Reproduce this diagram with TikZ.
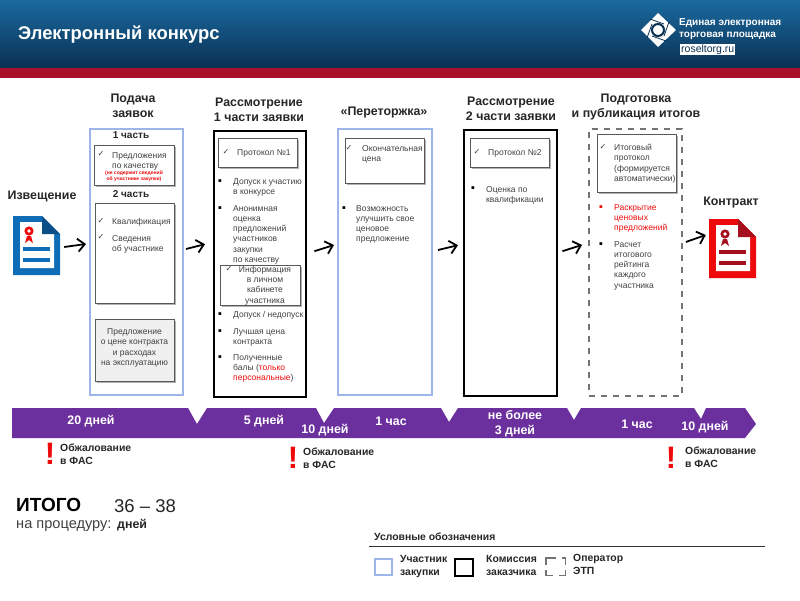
\documentclass[tikz,border=0pt]{standalone}
\usepackage{fontspec}
\setmainfont{Liberation Sans}
\newfontfamily\symfont{DejaVu Sans}
\usetikzlibrary{positioning,arrows.meta,shadows}

\definecolor{partblue}{HTML}{9DB5E8}
\definecolor{headtop}{HTML}{1A6AA0}
\definecolor{headbot}{HTML}{0A3052}
\definecolor{headred}{HTML}{A8102A}
\definecolor{bandviolet}{HTML}{6B2F9E}
\definecolor{txtgray}{HTML}{404040}
\definecolor{txtdark}{HTML}{262626}
\definecolor{noteblue}{HTML}{0F6CB6}
\definecolor{notedark}{HTML}{0B4F86}
\definecolor{signred}{HTML}{EE0A0A}
\definecolor{signdark}{HTML}{A5101E}

\newcommand{\docicon}[5]{%
  \fill [#2] (#1) ++(0,0) -- ++(29,0) -- ++(18,18) -- ++(0,41) -- ++(-47,0) -- cycle;
  \fill [white] (#1) ++(7,6) -- ++(22,0) -- ++(0,12) -- ++(12,0) -- ++(0,34) -- ++(-34,0) -- cycle;
  \fill [#3] (#1) ++(29,0) -- ++(18,18) -- ++(-18,0) -- cycle;
  \fill [#4] (#1) ++(14,20) -- ++(-2,7) -- ++(4,-3) -- ++(4,3) -- ++(-2,-7) -- cycle;
  \fill [#4] (#1) ++(16,15) circle (4.6);
  \fill [white] (#1) ++(16,15) circle (1.8);
  \fill [#5] (#1) ++(10,31) rectangle ++(27,4);
  \fill [#5] (#1) ++(10,42) rectangle ++(27,4);
}

\tikzset{
  heading/.style={align=center, inner sep=0, text=txtdark, font=\fontsize{12.4}{15}\selectfont\bfseries},
  subhead/.style={inner sep=0, text=txtdark, font=\fontsize{10}{12}\selectfont\bfseries},
  partbox/.style={anchor=north west, draw=partblue, line width=2pt, inner sep=0},
  jurybox/.style={anchor=north west, draw=black, line width=2.4pt, inner sep=0},
  etpbox/.style={anchor=north west, draw=black!55, line width=1.9pt, dash pattern=on 6pt off 6pt, inner sep=0},
  inbox/.style={anchor=north west, draw=black!65, line width=.8pt, fill=white, inner sep=0,
    drop shadow={shadow xshift=2pt, shadow yshift=-2pt, fill=black!60}},
  note/.style={anchor=north west, align=left, inner sep=0, yshift=-1pt, text=txtgray, font=\fontsize{8.5}{10.3}\selectfont},
  chk/.style={inner sep=0, text=txtgray, font=\symfont\fontsize{8}{9}\selectfont},
  bul/.style={inner sep=0, text=black, font=\symfont\fontsize{5.5}{7}\selectfont},
  flow/.style={-{Straight Barb[length=7pt,width=13pt,line width=1.8pt]}, line width=1.8pt, black},
  daytext/.style={inner sep=0, align=center, text=white, font=\fontsize{12.4}{15}\selectfont\bfseries},
  bang/.style={inner sep=0, text=signred, font=\fontsize{31}{31}\selectfont\bfseries},
  appeal/.style={anchor=north west, align=left, inner sep=0, text=txtdark, font=\fontsize{10.4}{12.8}\selectfont\bfseries},
  legend/.style={anchor=north west, align=left, inner sep=0, text=txtdark, font=\fontsize{10.4}{12.8}\selectfont\bfseries},
}

\begin{document}
\begin{tikzpicture}[x=1pt, y=-1pt]
  \useasboundingbox (0,0) rectangle (800,600);

  % header
  \shade [top color=headtop, bottom color=headbot] (0,0) rectangle (800,68);
  \fill [headred] (0,68) rectangle (800,78);
  \node [anchor=west, inner sep=0, text=white, font=\fontsize{18.4}{22}\selectfont\bfseries] (title) at (18,35) {Электронный конкурс};
  \fill [white] (658,13) -- (676,30) -- (658,47) -- (641,30) -- cycle;
  \draw [headbot, line width=2pt] (658,30) circle (6);
  \draw [headbot, line width=.8pt] (650,19) -- (664,24) (669,22) -- (664,36) (666,41) -- (652,36) (647,38) -- (652,24);
  \node [anchor=north west, align=left, inner sep=0, text=white, font=\fontsize{10}{12}\selectfont\bfseries] (etp) at (679,18) {Единая электронная\\торговая площадка};
  \node [anchor=north west, fill=white, inner sep=1pt, text=headbot, font=\fontsize{10.5}{11}\selectfont] (site) at (680,43.5) {roseltorg.ru};

  % columns
  \node [partbox, minimum width=93pt, minimum height=266pt] (submit) at (89,128) {};
  \node [jurybox, minimum width=92pt, minimum height=266pt] (first) at (213,130) {};
  \node [partbox, minimum width=94pt, minimum height=266pt] (rebid) at (337,128) {};
  \node [jurybox, minimum width=93pt, minimum height=266pt] (second) at (463,129) {};
  \node [etpbox, minimum width=93pt, minimum height=267pt] (result) at (588,128) {};

  \node [heading] (submithead) at (133,106) {Подача\\заявок};
  \node [heading] (firsthead) at (259,110) {Рассмотрение\\1 части заявки};
  \node [heading] (rebidhead) at (384,113) {«Переторжка»};
  \node [heading] (secondhead) at (511,109) {Рассмотрение\\2 части заявки};
  \node [heading] (resulthead) at (636,107) {Подготовка\\и публикация итогов};
  \node [heading] (noticehead) at (42,196) {Извещение};
  \node [heading] (contracthead) at (731,203) {Контракт};

  % documents
  \node [minimum width=47pt, minimum height=59pt, inner sep=0] (notice) at (36.5,245.5) {};
  \node [minimum width=47pt, minimum height=58pt, inner sep=0] (contract) at (732.5,248) {};
  \docicon{13,216}{noteblue}{notedark}{signred}{noteblue}
  \docicon{709,219}{signred}{signdark}{signdark}{signdark}

  % submit
  \node [subhead] (part1) at (131,135.5) {1 часть};
  \node [inbox, minimum width=80pt, minimum height=40pt] (quality) at (94,145) {};
  \node [chk] (c1) at (101,154) {✓};
  \node [note] (t1) at (112,151) {Предложения\\по качеству};
  \node [inner sep=0, align=center, text=signred, font=\fontsize{5}{6}\selectfont\bfseries] (t1a) at (134,176) {(не содержит сведений\\об участнике закупки)};
  \node [subhead] (part2) at (131,194.5) {2 часть};
  \node [inbox, minimum width=79pt, minimum height=100pt] (qualif) at (95,203) {};
  \node [chk] (c2) at (101,221) {✓};
  \node [note] (t2) at (112,217) {Квалификация};
  \node [chk] (c3) at (101,237) {✓};
  \node [note] (t3) at (112,234) {Сведения\\об участнике};
  \node [inbox, fill=black!6, minimum width=79pt, minimum height=62pt] (price) at (95,319) {};
  \node [note, anchor=center, align=center] (t4) at (134.5,347) {Предложение\\о цене контракта\\и расходах\\на эксплуатацию};

  % first part
  \node [inbox, minimum width=79pt, minimum height=29pt] (prot1) at (218,138) {};
  \node [chk] (c4) at (226,152) {✓};
  \node [note] (t5) at (237,148) {Протокол №1};
  \node [bul] (b1) at (220,181) {▪};
  \node [note] (t6) at (233,177) {Допуск к участию\\в конкурсе};
  \node [bul] (b2) at (220,208) {▪};
  \node [note] (t7) at (233,204) {Анонимная\\оценка\\предложений\\участников\\закупки\\по качеству};
  \node [inbox, minimum width=80pt, minimum height=40pt] (cabinet) at (220,265) {};
  \node [chk] (c5) at (229,269) {✓};
  \node [note, anchor=north, align=center] (t8) at (265,265) {Информация\\в личном\\кабинете\\участника};
  \node [bul] (b3) at (220,314) {▪};
  \node [note] (t9) at (233,310) {Допуск / недопуск};
  \node [bul] (b4) at (220,331) {▪};
  \node [note] (t10) at (233,327) {Лучшая цена\\контракта};
  \node [bul] (b5) at (220,357) {▪};
  \node [note] (t11) at (233,353) {Полученные\\балы ({\color{signred}только}\\{\color{signred}персональные})};

  % rebid
  \node [inbox, minimum width=79pt, minimum height=45pt] (final) at (345,138) {};
  \node [chk] (c6) at (349,148) {✓};
  \node [note] (t12) at (362,144) {Окончательная\\цена};
  \node [bul] (b6) at (344,208) {▪};
  \node [note] (t13) at (356,204) {Возможность\\улучшить свое\\ценовое\\предложение};

  % second part
  \node [inbox, minimum width=79pt, minimum height=29pt] (prot2) at (470,138) {};
  \node [chk] (c7) at (477,152) {✓};
  \node [note] (t14) at (488,148) {Протокол №2};
  \node [bul] (b7) at (473,188) {▪};
  \node [note] (t15) at (486,185) {Оценка по\\квалификации};

  % result
  \node [inbox, minimum width=79pt, minimum height=58pt] (total) at (597,134) {};
  \node [chk] (c8) at (603,147) {✓};
  \node [note] (t16) at (614,143) {Итоговый\\протокол\\(формируется\\автоматически)};
  \node [bul, text=signred] (b8) at (601,207) {▪};
  \node [note, text=signred] (t17) at (614,203) {Раскрытие\\ценовых\\предложений};
  \node [bul] (b9) at (601,244) {▪};
  \node [note] (t18) at (614,240) {Расчет\\итогового\\рейтинга\\каждого\\участника};

  % arrows
  \draw [flow] ([shift={(4,1.5)}]notice.east) -- ([shift={(-3,-18)}]submit.west);
  \draw [flow] ([shift={(2,-13)}]submit.east) -- ([shift={(-8,-20)}]first.west);
  \draw [flow] ([shift={(7,-13)}]first.east) -- ([shift={(-3,-17)}]rebid.west);
  \draw [flow] ([shift={(5,-12)}]rebid.east) -- ([shift={(-5,-18)}]second.west);
  \draw [flow] ([shift={(4,-12)}]second.east) -- ([shift={(-6,-17.5)}]result.west);
  \draw [flow] ([shift={(3,-20.5)}]result.east) -- ([shift={(-3,-13)}]contract.west);

  % time band
  \fill [bandviolet] (12,408) -- (188,408) -- (197,424) -- (207,408) -- (316,408) -- (324,423) -- (334,408)
    -- (441,408) -- (449,422) -- (458,408) -- (567,408) -- (574,420) -- (581,408) -- (694,408) -- (701,419)
    -- (706,408) -- (745,408) -- (756,424) -- (745,438) -- (12,438) -- cycle;
  \node [daytext] (d1) at (91,421) {20 дней};
  \node [daytext] (d2) at (264,421) {5 дней};
  \node [daytext] (d3) at (325,430) {10 дней};
  \node [daytext] (d4) at (391,421) {1 час};
  \node [daytext] (d5) at (515,423.5) {не более\\3 дней};
  \node [daytext] (d6) at (637,424) {1 час};
  \node [daytext] (d7) at (705,427) {10 дней};

  % appeals
  \node [bang] (bang1) at (50,454) {!};
  \node [appeal] (ap1) at (60,443.5) {Обжалование\\в ФАС};
  \node [bang] (bang2) at (293,458) {!};
  \node [appeal] (ap2) at (303,447.5) {Обжалование\\в ФАС};
  \node [bang] (bang3) at (671,458) {!};
  \node [appeal] (ap3) at (685,446.5) {Обжалование\\в ФАС};

  % total
  \node [anchor=west, inner sep=0, text=black, font=\fontsize{19}{20}\selectfont\bfseries] (sum) at (16,505) {ИТОГО};
  \node [anchor=west, inner sep=0, text=txtdark, font=\fontsize{18.5}{20}\selectfont] (sumdays) at (114,506) {36 – 38};
  \node [anchor=west, inner sep=0, text=txtgray, font=\fontsize{14.6}{16}\selectfont] (sumtext) at (16,526) {на процедуру:};
  \node [anchor=west, inner sep=0, text=txtdark, font=\fontsize{12.4}{14}\selectfont\bfseries] (sumunit) at (117,525) {дней};

  % legend
  \node [legend] (legendhead) at (374,532.5) {Условные обозначения};
  \coordinate (lineleft) at (369,546);
  \coordinate (lineright) at (765,546);
  \draw [black!80, line width=.9pt] (lineleft) -- (lineright);
  \node [partbox, minimum width=17pt, minimum height=16pt] (keyblue) at (374,558) {};
  \node [legend] (keybluetext) at (400,555.5) {Участник\\закупки};
  \node [jurybox, minimum width=18pt, minimum height=17pt] (keyblack) at (454,558) {};
  \node [legend] (keyblacktext) at (486,555.5) {Комиссия\\заказчика};
  \node [anchor=north west, inner sep=0, minimum width=19pt, minimum height=17pt] (keydash) at (546,558) {};
  \draw [black!55, line width=1.7pt]
    ([yshift=-7pt]keydash.north west) -- (keydash.north west) -- ([xshift=10pt]keydash.north west)
    ([xshift=-3pt]keydash.north east) -- (keydash.north east) -- ([yshift=-7pt]keydash.north east)
    ([yshift=5pt]keydash.south west) -- (keydash.south west) -- ([xshift=7pt]keydash.south west)
    ([xshift=-6pt]keydash.south east) -- (keydash.south east) -- ([yshift=5pt]keydash.south east);
  \node [legend] (keydashtext) at (573,554) {Оператор\\ЭТП};
\end{tikzpicture}
\end{document}
